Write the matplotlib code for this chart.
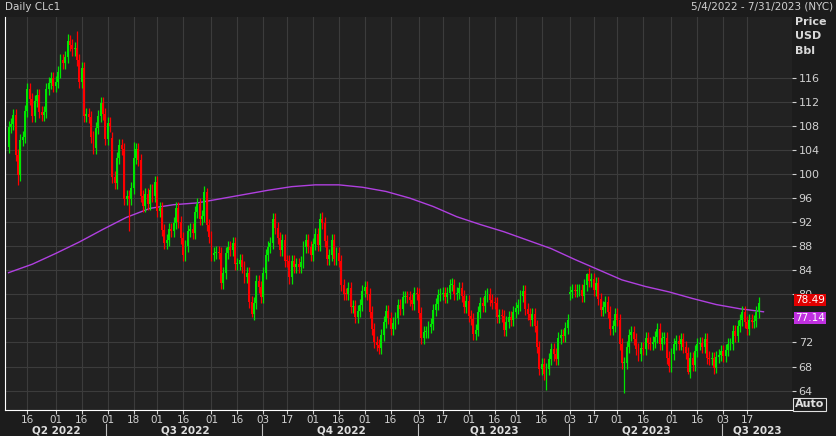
import numpy as np
import pandas as pd
import matplotlib
matplotlib.use("Agg")
import matplotlib.pyplot as plt
from matplotlib.patches import Rectangle

# ---- data: daily closes by month (business days) ----
months = ["2022-05", "2022-06", "2022-07", "2022-08", "2022-09", "2022-10", "2022-11",
          "2022-12", "2023-01", "2023-02", "2023-03", "2023-04", "2023-05", "2023-06", "2023-07"]
closes_by_month = [
    [107.8,108.3,109.8,103.1,99.8,105.7,106.1,110.5,114.2,112.4,109.6,112.2,113.2,110.3,109.8,110.3,114.1,115.1,116.0,114.7],
    [115.3,116.9,118.9,118.5,119.4,122.1,121.5,120.7,120.9,118.9,115.3,117.6,109.6,110.0,109.5,106.2,104.3,107.6,109.6,111.8,110.0,105.8],
    [108.4,108.0,99.5,98.5,102.7,104.8,104.1,95.8,96.3,95.8,97.6,102.6,104.2,102.3,96.4,94.7,96.7,95.0,97.3,96.4,98.6],
    [93.9,94.4,90.7,88.5,89.0,90.8,90.5,91.9,94.3,92.1,89.4,86.5,88.1,90.5,90.8,90.2,93.7,95.0,92.5,93.1,97.0,91.6,89.6],
    [86.6,86.9,87.0,86.9,81.9,83.5,86.8,87.8,87.3,88.5,85.1,85.1,85.7,84.5,82.9,83.5,78.7,76.7,78.5,82.2,81.2,79.5],
    [83.6,86.5,87.8,88.5,92.6,91.1,89.4,87.3,89.1,85.6,85.5,82.8,85.6,84.5,85.1,84.6,85.3,87.9,89.1,87.9,86.5],
    [88.4,90.0,88.2,92.6,91.8,88.9,85.8,86.5,89.0,85.9,86.9,85.6,81.6,80.1,80.0,81.0,77.9,78.0,76.3,77.2,78.2,80.6],
    [81.2,80.0,77.0,74.3,72.0,71.5,71.0,73.2,75.4,77.3,76.1,74.3,75.2,76.1,78.3,77.5,79.6,79.6,79.5,79.0,78.4,80.3],
    [80.0,76.9,72.8,73.7,73.8,74.6,75.1,77.4,78.4,79.9,80.0,80.2,79.5,80.3,81.6,81.6,80.1,80.2,81.0,79.7,77.9,78.9],
    [76.4,75.9,73.4,74.1,77.1,78.5,78.1,79.7,80.1,79.1,78.6,78.5,76.3,76.5,76.4,74.0,75.4,76.3,75.7,77.1],
    [77.7,78.2,79.7,80.5,77.6,76.7,75.7,76.7,74.8,71.3,67.6,68.4,66.7,67.6,69.3,70.9,70.0,69.3,72.8,73.2,73.0,74.4,75.7],
    [80.4,80.7,80.6,80.7,80.7,79.7,81.5,83.3,82.2,82.5,80.8,81.9,79.2,77.4,77.9,78.8,77.1,74.3,74.8,76.8],
    [75.7,71.7,68.6,68.6,71.3,73.2,73.7,72.6,70.9,70.0,71.1,70.9,72.8,71.9,71.7,72.0,72.9,74.3,71.8,72.7,72.7,69.5,68.1],
    [70.1,71.7,72.2,71.7,72.5,71.3,70.2,67.1,69.4,68.3,70.6,71.8,71.9,71.2,72.5,69.5,69.2,69.4,67.7,69.6,69.9,70.6],
    [69.8,70.8,71.8,71.8,73.9,73.0,74.8,75.8,77.0,75.4,74.2,75.8,75.4,75.6,77.1,78.5],
]
first_open = 104.5
gap_opens = {"2023-04-03": 80.1, "2022-07-05": 106.0}
# notable wick extremes
wick_highs = {"2022-06-14": 123.7, "2022-06-08": 123.2, "2022-07-18": 105.3, "2022-08-30": 97.7,
              "2022-10-10": 93.6, "2022-11-07": 93.7, "2023-01-23": 82.7, "2023-04-12": 83.5}
wick_lows = {"2022-05-10": 98.2, "2022-07-14": 90.6, "2022-09-26": 76.3, "2022-12-09": 70.1,
             "2023-03-20": 64.1, "2023-05-04": 63.6, "2023-06-12": 66.8, "2023-06-28": 67.0}
default_wick = 1.0

ma_step = 10
ma_values = [83.6,85.0,86.8,88.7,90.8,92.8,94.3,94.9,95.2,95.9,96.6,97.3,97.9,98.2,98.2,97.8,97.1,
             96.0,94.6,92.9,91.6,90.4,89.0,87.6,85.8,84.1,82.4,81.3,80.4,79.3,78.3,77.6,77.1]

last_label, ma_label = "78.49", "77.14"

# ---- build series ----
dates, closes = [], []
for m, cl in zip(months, closes_by_month):
    start = pd.Timestamp(m + "-01")
    if m == "2022-05":
        start = pd.Timestamp("2022-05-04")
    d = pd.bdate_range(start, start + pd.offsets.MonthEnd(0))
    n = min(len(d), len(cl))
    dates += list(d[:n]); closes += cl[:n]
closes = np.array(closes)
opens = np.concatenate([[first_open], closes[:-1]])
for k, v in gap_opens.items():
    ts = pd.Timestamp(k)
    if ts in dates:
        opens[dates.index(ts)] = v
highs = np.maximum(opens, closes) + default_wick
lows = np.minimum(opens, closes) - default_wick
for k, v in wick_highs.items():
    ts = pd.Timestamp(k)
    if ts in dates: highs[dates.index(ts)] = v
for k, v in wick_lows.items():
    ts = pd.Timestamp(k)
    if ts in dates: lows[dates.index(ts)] = v

all_days = list(pd.bdate_range("2022-05-04", "2023-07-31"))
def pos(s):
    return all_days.index(pd.Timestamp(s))

BG = "#1c1c1c"
fig = plt.figure(figsize=(8.37, 4.36), dpi=100, facecolor=BG)
ax = fig.add_axes([0.006, 0.060, 0.940, 0.901], facecolor="#222222")
x = np.arange(len(closes))
for i in x:
    up = closes[i] >= opens[i]
    col = "#00e600" if up else "#ff0000"
    ax.vlines(i, lows[i], highs[i], color=col, lw=0.9, zorder=3)
    b0 = min(opens[i], closes[i]); h = max(abs(closes[i] - opens[i]), 0.15)
    ax.add_patch(Rectangle((i - 0.4, b0), 0.8, h, color=col, lw=0, zorder=4))
ma_x = np.arange(len(ma_values)) * ma_step
ax.plot(ma_x, ma_values, color="#b040e0", lw=1.0, zorder=2)

ax.set_xlim(-1.5, 332)
ax.set_ylim(60.8, 126.1)
yt = list(range(64, 117, 4))
ax.set_yticks(yt)
ax.yaxis.tick_right()
ax.set_yticklabels([str(v) for v in yt])
ax.tick_params(axis="y", colors="#d0d0d0", labelsize=8, length=3, pad=2)

tick_dates = ["2022-05-16","2022-06-01","2022-06-16","2022-07-01","2022-07-18","2022-08-01","2022-08-16",
              "2022-09-01","2022-09-16","2022-10-03","2022-10-17","2022-11-01","2022-11-16","2022-12-01",
              "2022-12-16","2023-01-03","2023-01-17","2023-02-01","2023-02-16","2023-03-01","2023-03-16",
              "2023-04-03","2023-04-17","2023-05-01","2023-05-16","2023-06-01","2023-06-16","2023-07-03","2023-07-17"]
tp = [pos(d) for d in tick_dates]
ax.set_xticks(tp)
ax.set_xticklabels([d[-2:] for d in tick_dates])
ax.tick_params(axis="x", colors="#d0d0d0", labelsize=7.5, length=3, pad=1)
ax.grid(True, color="#3c3c3c", lw=0.8)
ax.set_axisbelow(True)
for s in ["top", "right"]:
    ax.spines[s].set_visible(False)
ax.spines["left"].set_color("white"); ax.spines["bottom"].set_color("white")

quarters = [("Q2 2022", None, "2022-07-01"), ("Q3 2022", "2022-07-01", "2022-10-03"),
            ("Q4 2022", "2022-10-03", "2023-01-03"), ("Q1 2023", "2023-01-03", "2023-04-03"),
            ("Q2 2023", "2023-04-03", "2023-07-03"), ("Q3 2023", "2023-07-03", None)]
tr = ax.get_xaxis_transform()
for lab, a, b in quarters:
    xa = pos(a) if a else -1.5
    xb = pos(b) if b else 332
    xm = (xa + xb) / 2
    ax.text(xm, -0.053, lab, transform=tr, ha="center", va="center", color="#e0e0e0",
            fontsize=7.5, fontweight="bold", clip_on=False)
    if a:
        ax.plot([xa - 0.5, xa - 0.5], [-0.035, -0.07], transform=tr, color="#c0c0c0", lw=0.8, clip_on=False)

fig.text(0.006, 0.985, "Daily CLc1", color="#d0d0d0", fontsize=7.5, va="center", ha="left")
fig.text(0.995, 0.985, "5/4/2022 - 7/31/2023 (NYC)", color="#d0d0d0", fontsize=7.5, va="center", ha="right")
for j, t in enumerate(["Price", "USD", "Bbl"]):
    fig.text(0.950, 0.950 - j * 0.033, t, color="#d8d8d8", fontsize=8, fontweight="bold", va="center")

ty = ax.get_yaxis_transform()
ax.text(1.004, float(last_label) + 0.5, last_label, transform=ty, color="#ffffff", fontsize=7.5, va="center",
        ha="left", bbox=dict(boxstyle="square,pad=0.1", fc="#e00000", ec="none"), clip_on=False)
ax.text(1.004, float(ma_label) - 1.0, ma_label, transform=ty, color="#ffffff", fontsize=7.5, va="center",
        ha="left", bbox=dict(boxstyle="square,pad=0.1", fc="#c030e0", ec="none"), clip_on=False)
fig.text(0.950, 0.073, "Auto", color="#e0e0e0", fontsize=8, fontweight="bold", va="center",
         bbox=dict(boxstyle="square,pad=0.15", fc=BG, ec="#e0e0e0", lw=0.8))

fig.savefig("out.png", dpi=100, facecolor=BG)
